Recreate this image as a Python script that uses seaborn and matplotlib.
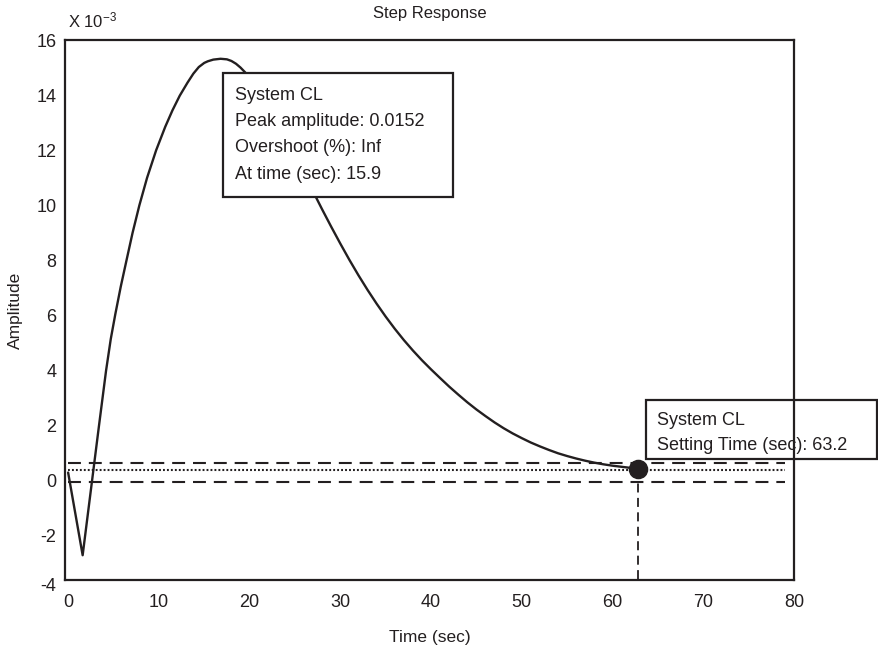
import matplotlib
matplotlib.use("Agg")
import matplotlib.pyplot as plt
import seaborn as sns
import numpy as np
import pandas as pd
from matplotlib.patches import Rectangle
import matplotlib.transforms as mtransforms

# ---- data (amplitude in units of 1e-3) ----
time_s = [0, 1.6, 2.5, 3.4, 4.18, 4.7, 5.2, 5.8, 6.43, 7.1, 7.85, 8.7, 9.7, 10.7,
          11.5, 12.3, 13.15, 13.8, 14.4, 15.0, 15.4, 16.0, 16.8, 17.5, 18.0, 18.5,
          19.0, 19.5, 20, 21, 22, 23, 24, 25, 26, 27, 28, 29, 30, 31, 32, 33, 34,
          35, 36, 37, 38, 39, 40, 41, 42, 43, 44, 45, 46, 47, 48, 49, 50, 51, 52,
          53, 54, 55, 56, 57, 58, 59, 60, 61, 62, 62.8]
amplitude = [0.3, -2.7, -0.35, 2.0, 4.0, 5.15, 6.05, 7.05, 8.0, 9.0, 10.0, 11.0,
             12.0, 12.85, 13.45, 13.98, 14.45, 14.78, 15.02, 15.17, 15.23, 15.29,
             15.32, 15.3, 15.24, 15.14, 15.0, 14.83, 14.62, 14.12, 13.58, 13.0, 12.4,
             11.78, 11.15, 10.5, 9.85, 9.22, 8.61, 8.02, 7.46, 6.93, 6.43, 5.96, 5.52,
             5.11, 4.73, 4.375, 4.045, 3.73, 3.42, 3.13, 2.85, 2.59, 2.35, 2.12, 1.91,
             1.72, 1.55, 1.39, 1.25, 1.12, 1.0, 0.9, 0.81, 0.73, 0.66, 0.6, 0.55,
             0.51, 0.47, 0.445]
settle_upper = 0.65
settle_lower = -0.03
final_value = 0.38
settle_time = 62.8
settle_amp = 0.44
band_range = [0, 79]
x_ticks = [0, 10, 20, 30, 40, 50, 60, 70, 80]
y_ticks = [-4, -2, 0, 2, 4, 6, 8, 10, 12, 14, 16]
peak_lines = ["System CL", "Peak amplitude: 0.0152", "Overshoot (%): Inf", "At time (sec): 15.9"]
settle_lines = ["System CL", "Setting Time (sec): 63.2"]

INK = "#231f20"
YMIN, YMAX = -3.6, 16.0

sns.set_style("white")
plt.rcParams["font.family"] = ["Liberation Sans", "DejaVu Sans"]
plt.rcParams["mathtext.fontset"] = "custom"
plt.rcParams["mathtext.rm"] = "Liberation Sans"
plt.rcParams["mathtext.it"] = "Liberation Sans"

fig = plt.figure(figsize=(8.79, 6.48), dpi=100)
ax = fig.add_axes([0.0739, 0.1049, 0.8294, 0.8333])

df = pd.DataFrame({"t": time_s, "a": amplitude})
sns.lineplot(data=df, x="t", y="a", ax=ax, color=INK, lw=1.7, sort=False, zorder=2)

# settling band
ax.plot(band_range, [settle_upper] * 2, color=INK, lw=1.5, dashes=(6.2, 3.8), zorder=1.8)
ax.plot(band_range, [settle_lower] * 2, color=INK, lw=1.5, dashes=(6.2, 3.8), zorder=1.8)
ax.plot(band_range, [final_value] * 2, color=INK, lw=1.5, dashes=(0.9, 1.0), zorder=1.8)
ax.plot([settle_time, settle_time], [settle_amp, YMIN - 0.3], color=INK, lw=1.3,
        dashes=(5.0, 3.0), zorder=1.8)
sns.scatterplot(x=[settle_time], y=[settle_amp], ax=ax, color=INK, s=170,
                edgecolor=INK, zorder=3)

ax.set_xlim(-0.35, 80)
ax.set_ylim(YMIN, YMAX)
ax.set_xticks(x_ticks)
ax.set_xticklabels([str(v) for v in x_ticks])
shown_y = [v for v in y_ticks if v >= YMIN]
ax.set_yticks(shown_y)
ax.set_yticklabels([str(v) for v in shown_y])
ax.tick_params(axis="both", direction="in", length=6, width=1.3, colors=INK,
               labelsize=13, labelcolor=INK)
ax.tick_params(axis="x", pad=10)
ax.tick_params(axis="y", pad=6)
for s in ax.spines.values():
    s.set_visible(True)
    s.set_color(INK)
    s.set_linewidth(1.6)

# the -4 label sits just below the frame
trans = mtransforms.blended_transform_factory(ax.transAxes, ax.transData)
for v in y_ticks:
    if v < YMIN:
        ax.text(-0.0125, v + 0.15, str(v), transform=trans, ha="right", va="center",
                fontsize=13, color=INK, clip_on=False)

ax.set_xlabel("Time (sec)", fontsize=12.5, color=INK, labelpad=14)
ax.set_ylabel("Amplitude", fontsize=12.5, color=INK, labelpad=10)
ax.set_title("Step Response", fontsize=12, color=INK, pad=16)
fig.text(0.0774, 0.969, r"X 10$^{\mathregular{-3}}$", fontsize=12, color=INK, va="center")

# peak annotation box
ax.add_patch(Rectangle((17.03, 10.32), 42.4 - 17.03, 14.8 - 10.32, facecolor="white",
                       edgecolor=INK, lw=1.6, zorder=4))
for i, line in enumerate(peak_lines):
    ax.text(18.38, 14.0 - i * 0.957, line, fontsize=13, color=INK, va="center",
            ha="left", zorder=5)

# settling annotation box (extends past the axes)
ax.add_patch(Rectangle((63.66, 0.78), 89.2 - 63.66, 2.95 - 0.78, facecolor="white",
                       edgecolor=INK, lw=1.6, zorder=2.3, clip_on=False))
for i, line in enumerate(settle_lines):
    ax.text(64.9, 2.19 - i * 0.9, line, fontsize=13, color=INK, va="center",
            ha="left", zorder=2.4, clip_on=False)

fig.savefig("out.png", dpi=100)
